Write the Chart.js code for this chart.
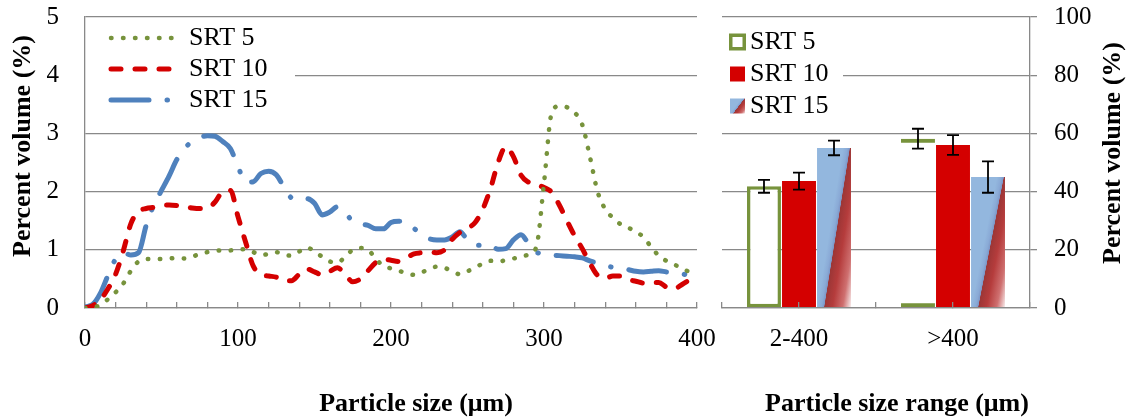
<!DOCTYPE html>
<html>
<head>
<meta charset="utf-8">
<script src="https://cdn.jsdelivr.net/npm/chart.js@4.4.1/dist/chart.umd.min.js"></script>
<style>
  body { margin: 0; background: #fff; width: 1135px; height: 418px; position: relative; overflow: hidden; }
  #sizeChart { position: absolute; left: 0; top: 0; }
  #rangeChart { position: absolute; left: 700px; top: 0; }
</style>
</head>
<body>
<canvas id="sizeChart" width="720" height="418"></canvas>
<canvas id="rangeChart" width="435" height="418"></canvas>
<script>
// particle size distribution (left panel), x in um
const sizes = [0, 5, 10, 15, 20, 25, 30, 35, 40, 45, 50, 55, 60, 65, 70, 75, 80, 85, 90, 95,
  100, 105, 110, 115, 120, 125, 130, 135, 140, 145, 150, 155, 160, 165, 170, 175, 180, 185, 190, 195,
  200, 205, 210, 215, 220, 225, 230, 235, 240, 245, 250, 255, 260, 265, 270, 275, 280, 285, 290, 295,
  300, 305, 310, 315, 320, 325, 330, 335, 340, 345, 350, 355, 360, 365, 370, 375, 380, 385, 390, 395]

const srt5 = [0, 0.01, 0.05, 0.15, 0.27, 0.42, 0.64, 0.8, 0.84, 0.84, 0.84, 0.85, 0.86, 0.85, 0.88, 0.93, 0.96, 0.98, 0.99, 0.99,
  1.01, 1.01, 0.96, 0.91, 0.93, 0.96, 0.91, 0.9, 0.97, 1.04, 0.97, 0.88, 0.8, 0.78, 0.88, 1.0, 1.03, 1.0, 0.85, 0.72,
  0.68, 0.64, 0.6, 0.57, 0.61, 0.67, 0.71, 0.69, 0.63, 0.58, 0.63, 0.7, 0.76, 0.81, 0.8, 0.82, 0.85, 0.88, 0.92, 1.05,
  2.15, 3.35, 3.47, 3.45, 3.36, 3.15, 2.6, 2.0, 1.7, 1.55, 1.44, 1.38, 1.31, 1.22, 1.05, 0.9, 0.81, 0.75, 0.68, 0.62]

const srt10 = [0, 0.04, 0.14, 0.33, 0.58, 0.98, 1.45, 1.66, 1.71, 1.73, 1.76, 1.77, 1.76, 1.74, 1.72, 1.71, 1.72, 1.82, 2.0, 2.02,
  1.57, 1.13, 0.72, 0.58, 0.55, 0.53, 0.47, 0.47, 0.58, 0.67, 0.62, 0.57, 0.63, 0.69, 0.58, 0.45, 0.5, 0.64, 0.78, 0.84,
  0.82, 0.8, 0.86, 0.93, 0.95, 0.96, 0.95, 1.0, 1.18, 1.3, 1.37, 1.47, 1.7, 2.05, 2.5, 2.77, 2.6, 2.28, 2.16, 2.12,
  2.07, 1.99, 1.77, 1.5, 1.24, 1.02, 0.77, 0.56, 0.51, 0.55, 0.55, 0.49, 0.46, 0.43, 0.44, 0.44, 0.36, 0.33, 0.4, 0.48]

const srt15 = [0.02, 0.06, 0.25, 0.56, 0.84, 0.95, 0.91, 0.95, 1.42, 1.77, 2.02, 2.27, 2.55, 2.74, 2.86, 2.93, 2.96, 2.95, 2.86, 2.74,
  2.43, 2.16, 2.17, 2.31, 2.35, 2.29, 2.08, 1.89, 1.86, 1.88, 1.8, 1.6, 1.65, 1.74, 1.65, 1.48, 1.44, 1.42, 1.36, 1.36,
  1.47, 1.49, 1.48, 1.37, 1.26, 1.19, 1.17, 1.17, 1.22, 1.31, 1.17, 1.08, 1.08, 1.08, 1.01, 1.02, 1.17, 1.26, 1.1, 0.96,
  0.93, 0.91, 0.9, 0.89, 0.88, 0.86, 0.81, 0.77, 0.73, 0.7, 0.69, 0.66, 0.63, 0.62, 0.63, 0.64, 0.62, 0.61, 0.59, 0.55]

// size range totals (right panel), percent volume
const ranges = ['2-400', '>400']
const srt5Range = [41.8, 58.2]
const srt10Range = [43.6, 56]
const srt15Range = [55, 45]
const srt5Err = [2.2, 3.4]
const srt10Err = [2.9, 3.4]
const srt15Err = [2.5, 5.4]

const green = '#77933c'
const red = '#d40000'
const blue = '#4f81bd'
const gray = '#898989'
const catPct = 0.682
const barPct = 0.97

const lineStyles = [
  { color: green, width: 4.5, dash: [0.5, 11.5] },
  { color: red, width: 5, dash: [10, 14] },
  { color: blue, width: 5, dash: [38, 18, 0.5, 18] }
]

Chart.defaults.font.family = '"Liberation Serif", "Times New Roman", serif'
Chart.defaults.color = '#000'

// blue fill with a red streak running up to the right edge
function barGradient(g, left, top, right, bottom) {
  const w = right - left
  const h = bottom - top
  const k = 0.76
  const lam = 1 / (1 / (w * w) + (k * k) / (h * h))
  const grad = g.createLinearGradient(left, bottom, left + lam / w, bottom + lam * k / h)
  grad.addColorStop(0, '#93b7de')
  grad.addColorStop(0.13, '#8aaad6')
  grad.addColorStop(0.2, '#7e98c8')
  grad.addColorStop(0.215, '#9c3636')
  grad.addColorStop(0.45, '#b53c3c')
  grad.addColorStop(0.75, '#cf7070')
  grad.addColorStop(1, '#f8eeee')
  return grad
}

// grid line colour that stays invisible left of x = upTo (behind the legend)
function gridBehindLegend(chart, upTo) {
  const g = chart.ctx.createLinearGradient(0, 0, chart.width, 0)
  const f = upTo / chart.width
  g.addColorStop(0, 'rgba(137,137,137,0)')
  g.addColorStop(f, 'rgba(137,137,137,0)')
  g.addColorStop(f, gray)
  g.addColorStop(1, gray)
  return g
}

function swatch(w, h, paint) {
  const c = document.createElement('canvas')
  c.width = w
  c.height = h
  paint(c.getContext('2d'))
  return c
}

const lineSwatches = lineStyles.map((s) => swatch(90, 12, (g) => {
  g.strokeStyle = s.color
  g.lineWidth = s.width
  g.lineCap = 'round'
  g.setLineDash(s.dash)
  g.beginPath()
  g.moveTo(23, 6)
  g.lineTo(87, 6)
  g.stroke()
}))

const rangeSwatches = [
  swatch(29, 20, (g) => { g.strokeStyle = green; g.lineWidth = 3.5; g.strokeRect(12.75, 3.25, 13.5, 13.5) }),
  swatch(29, 20, (g) => { g.fillStyle = red; g.fillRect(12, 2.5, 15, 15) }),
  swatch(29, 20, (g) => { g.fillStyle = barGradient(g, 12, 2.5, 27, 17.5); g.fillRect(12, 2.5, 15, 15) })
]

function axisTitles(items) {
  return {
    id: 'axisTitles',
    afterDraw(chart) {
      const ctx = chart.ctx
      for (const t of items) {
        ctx.save()
        ctx.translate(t.x, t.y)
        ctx.rotate(t.rotate || 0)
        ctx.font = 'bold 26px "Liberation Serif", serif'
        ctx.fillStyle = '#000'
        ctx.textAlign = 'center'
        ctx.textBaseline = 'middle'
        ctx.fillText(t.text, 0, 0)
        ctx.restore()
      }
    }
  }
}

const errorBars = {
  id: 'errorBars',
  afterDatasetsDraw(chart) {
    const ctx = chart.ctx
    const y = chart.scales.y
    ctx.save()
    ctx.strokeStyle = '#000'
    ctx.lineWidth = 1.8
    chart.data.datasets.forEach((ds, i) => {
      chart.getDatasetMeta(i).data.forEach((bar, j) => {
        const hi = y.getPixelForValue(ds.data[j].y + ds.errors[j])
        const lo = y.getPixelForValue(ds.data[j].y - ds.errors[j])
        ctx.beginPath()
        ctx.moveTo(bar.x, hi); ctx.lineTo(bar.x, lo)
        ctx.moveTo(bar.x - 6, hi); ctx.lineTo(bar.x + 6, hi)
        ctx.moveTo(bar.x - 6, lo); ctx.lineTo(bar.x + 6, lo)
        ctx.stroke()
      })
    })
    ctx.restore()
  }
}

// fixed axis box sizes, no extra room for overhanging labels
const fixHeight = (h) => (s) => { s.height = h; s.paddingLeft = 0; s.paddingRight = 0; s.paddingTop = 0; s.paddingBottom = 0 }
const fixWidth = (w) => (s) => { s.width = w; s.paddingLeft = 0; s.paddingRight = 0; s.paddingTop = 0; s.paddingBottom = 0 }

const toPoints = (vals) => vals.map((v, i) => ({ x: sizes[i], y: v }))

// left panel: distribution curves
new Chart(document.getElementById('sizeChart'), {
  type: 'line',
  data: {
    datasets: [srt5, srt10, srt15].map((vals, i) => ({
      label: ['SRT 5', 'SRT 10', 'SRT 15'][i],
      data: toPoints(vals),
      borderColor: lineStyles[i].color,
      backgroundColor: lineStyles[i].color,
      borderWidth: lineStyles[i].width,
      borderDash: lineStyles[i].dash,
      borderCapStyle: 'round'
    }))
  },
  options: {
    responsive: false,
    animation: false,
    devicePixelRatio: 1,
    layout: { padding: { left: 0, top: 17, right: 23, bottom: 0 } },
    elements: { point: { radius: 0 }, line: { cubicInterpolationMode: 'monotone' } },
    scales: {
      x: {
        type: 'linear',
        min: 0,
        max: 400,
        afterFit: fixHeight(110),
        grid: { drawOnChartArea: false, tickLength: -6, color: gray, lineWidth: 1.3 },
        border: { color: gray, width: 1.3 },
        ticks: {
          stepSize: 20,
          autoSkip: false,
          maxRotation: 0,
          padding: 22.5,
          font: { size: 25 },
          callback: (v) => (v % 100 === 0 ? v : '')
        }
      },
      y: {
        min: 0,
        max: 5,
        afterFit: fixWidth(85),
        grid: {
          drawTicks: false,
          lineWidth: 1.3,
          color: (c) => (c.tick && c.tick.value === 4 ? gridBehindLegend(c.chart, 295) : gray)
        },
        border: { color: gray, width: 1.3 },
        ticks: { stepSize: 1, padding: 26, font: { size: 25 } }
      }
    },
    plugins: {
      tooltip: { enabled: false },
      legend: {
        position: 'chartArea',
        align: 'start',
        // empty title only pushes the rows down from the top edge
        title: { display: true, text: ' ', font: { size: 10 }, padding: { top: 8, bottom: 0 } },
        labels: {
          usePointStyle: true,
          pointStyleWidth: 86,
          padding: 5,
          font: { size: 26 },
          generateLabels(chart) {
            const items = Chart.defaults.plugins.legend.labels.generateLabels(chart)
            items.forEach((it, i) => { it.pointStyle = lineSwatches[i] })
            return items
          }
        }
      }
    }
  },
  plugins: [
    axisTitles([
      { text: 'Percent volume (%)', x: 23, y: 146, rotate: -Math.PI / 2 },
      { text: 'Particle size (\u03bcm)', x: 416, y: 404 }
    ])
  ]
})

// right panel: totals per size range
const rangePoints = (vals) => vals.map((v, i) => ({ x: i, y: v }))

new Chart(document.getElementById('rangeChart'), {
  type: 'bar',
  data: {
    datasets: [{
      label: 'SRT 5',
      data: rangePoints(srt5Range),
      errors: srt5Err,
      backgroundColor: ['#ffffff', 'rgba(255,255,255,0)'],
      borderColor: green,
      borderWidth: (c) => (c.dataIndex === 1 ? { top: 4, bottom: 4, left: 0, right: 0 } : 3.5),
      borderSkipped: false
    }, {
      label: 'SRT 10',
      data: rangePoints(srt10Range),
      errors: srt10Err,
      backgroundColor: red
    }, {
      label: 'SRT 15',
      data: rangePoints(srt15Range),
      errors: srt15Err,
      backgroundColor(c) {
        const xs = c.chart.scales.x
        const ys = c.chart.scales.y
        if (!xs || !ys || c.dataIndex === undefined) return '#8fb3dc'
        const step = xs.getPixelForValue(1) - xs.getPixelForValue(0)
        const chunk = step * catPct / 3
        const cx = xs.getPixelForValue(c.dataIndex) + chunk
        const w = chunk * barPct
        const top = ys.getPixelForValue(srt15Range[c.dataIndex])
        const bottom = ys.getPixelForValue(0)
        if (![step, cx, top, bottom].every(Number.isFinite) || bottom - top < 1) return '#8fb3dc'
        return barGradient(c.chart.ctx, cx - w / 2, top, cx + w / 2, bottom)
      }
    }]
  },
  options: {
    responsive: false,
    animation: false,
    devicePixelRatio: 1,
    // the bar ruler measures half-category tick spacing, hence the factor 2
    categoryPercentage: catPct * 2,
    barPercentage: barPct,
    layout: { padding: { left: 22, top: 17, right: 0, bottom: 0 } },
    scales: {
      x: {
        type: 'linear',
        min: -0.5,
        max: 1.5,
        offset: false,
        afterFit: fixHeight(110),
        // ticks and axis line sit on top of the bars
        grid: { offset: false, drawOnChartArea: false, tickLength: -6, color: gray, lineWidth: 1.3, z: 1 },
        border: { color: gray, width: 1.3, z: 1 },
        ticks: {
          stepSize: 0.5,
          autoSkip: false,
          maxRotation: 0,
          padding: 22.5,
          font: { size: 25 },
          callback: (v) => (Number.isInteger(v) ? ranges[v] : '')
        }
      },
      y: {
        position: 'right',
        min: 0,
        max: 100,
        afterFit: fixWidth(105),
        grid: {
          tickLength: 7,
          lineWidth: 1.3,
          color: (c) => (c.tick && c.tick.value === 80 ? gridBehindLegend(c.chart, 143) : gray)
        },
        border: { color: gray, width: 1.3 },
        ticks: { stepSize: 20, padding: 17, font: { size: 25 } }
      }
    },
    plugins: {
      tooltip: { enabled: false },
      legend: {
        position: 'chartArea',
        align: 'start',
        title: { display: true, text: ' ', font: { size: 10 }, padding: { top: 11, bottom: 0 } },
        labels: {
          usePointStyle: true,
          pointStyleWidth: 9,
          padding: 6,
          font: { size: 26 },
          generateLabels(chart) {
            const items = Chart.defaults.plugins.legend.labels.generateLabels(chart)
            items.forEach((it, i) => { it.pointStyle = rangeSwatches[i] })
            return items
          }
        }
      }
    }
  },
  plugins: [
    errorBars,
    axisTitles([
      { text: 'Percent volume (%)', x: 413, y: 153, rotate: -Math.PI / 2 },
      { text: 'Particle size range (\u03bcm)', x: 197, y: 404 }
    ])
  ]
})
</script>
</body>
</html>
